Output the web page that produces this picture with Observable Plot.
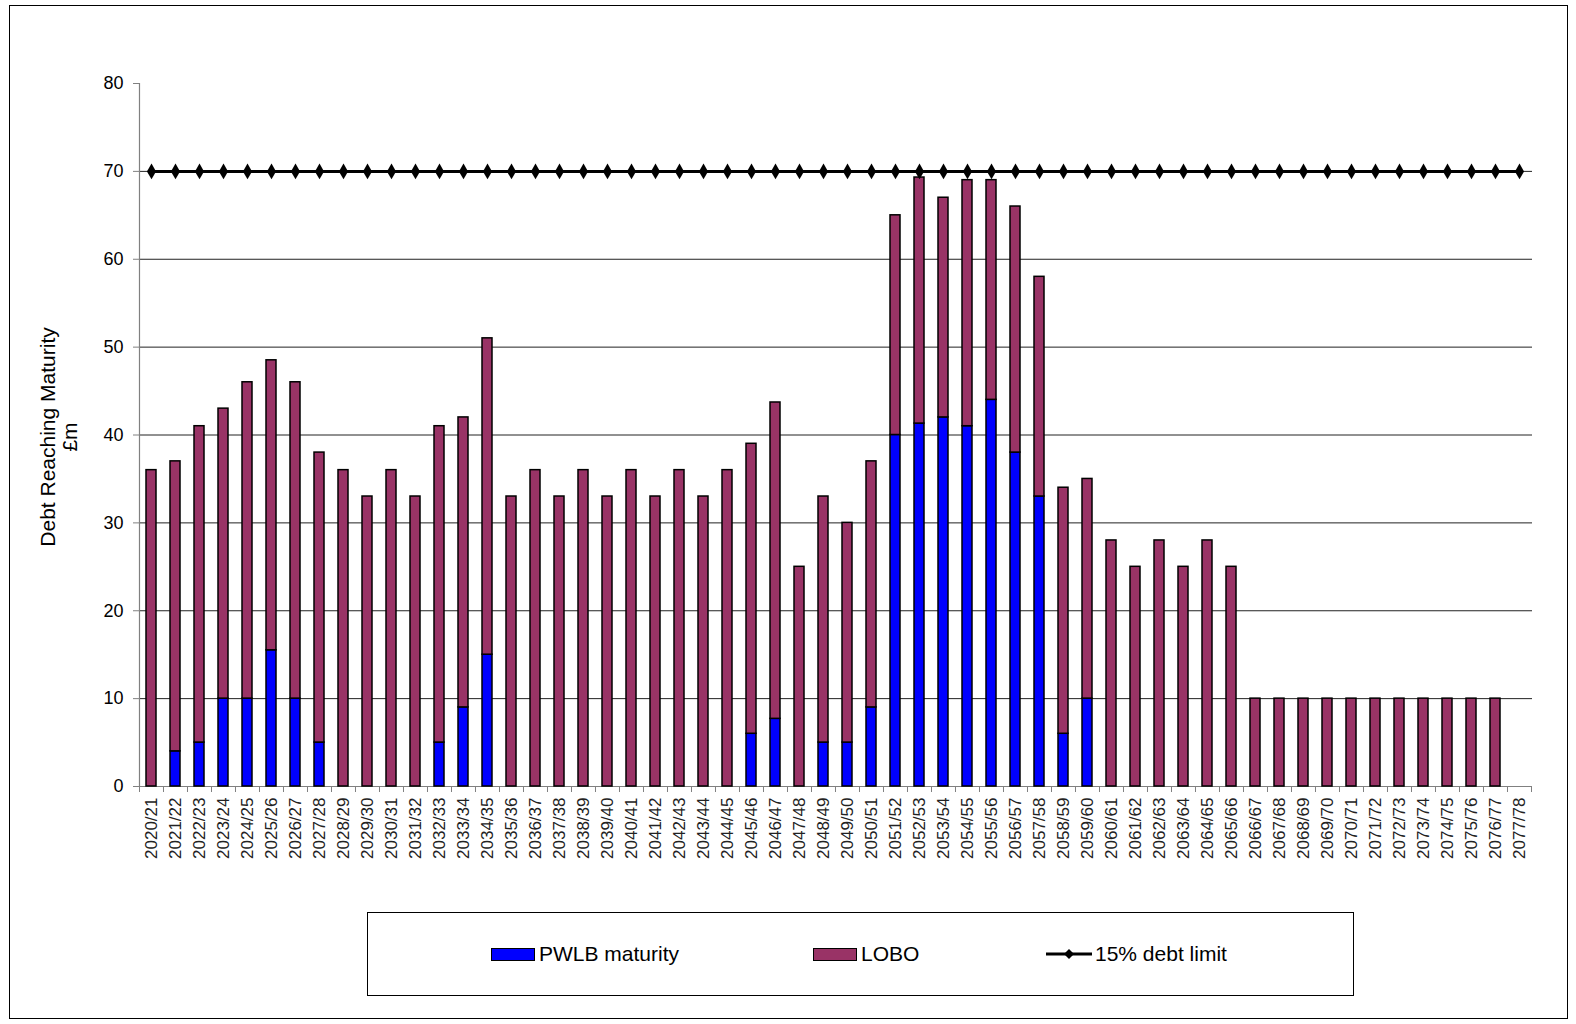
<!DOCTYPE html>
<html><head><meta charset="utf-8">
<script src="https://cdn.jsdelivr.net/npm/d3@7"></script>
<script src="https://cdn.jsdelivr.net/npm/@observablehq/plot@0.6"></script>
<style>
body{margin:0;background:#fff;font-family:"Liberation Sans",Arial,sans-serif;}
#wrap{position:relative;width:1576px;height:1024px;overflow:hidden;}
#frame{position:absolute;left:9px;top:5px;width:1559px;height:1014px;border:1px solid #000;box-sizing:border-box;}
#chart{position:absolute;left:0;top:0;}
#legend{position:absolute;left:367px;top:912px;width:987px;height:84px;border:1px solid #000;box-sizing:border-box;background:#fff;}
.item{position:absolute;top:0;height:82px;display:flex;align-items:center;font-size:21px;color:#000;}
.sw{width:42px;height:11px;border:1.5px solid #000;margin-right:4px;}
</style>
</head><body>
<div id="wrap">
  <div id="frame"></div>
  <div id="chart"></div>
  <div id="legend">
    <div class="item" style="left:123px"><span class="sw" style="background:#0000FF"></span>PWLB maturity</div>
    <div class="item" style="left:445px"><span class="sw" style="background:#993366"></span>LOBO</div>
    <div class="item" style="left:678px"><svg width="46" height="14" style="margin-right:3px"><line x1="0" y1="7" x2="46" y2="7" stroke="#000" stroke-width="3"/><path d="M23,2 L28,7 L23,12 L18,7 Z" fill="#000"/></svg>15% debt limit</div>
  </div>
</div>
<script>
const years = ["2020/21","2021/22","2022/23","2023/24","2024/25","2025/26","2026/27","2027/28","2028/29","2029/30",
"2030/31","2031/32","2032/33","2033/34","2034/35","2035/36","2036/37","2037/38","2038/39","2039/40",
"2040/41","2041/42","2042/43","2043/44","2044/45","2045/46","2046/47","2047/48","2048/49","2049/50",
"2050/51","2051/52","2052/53","2053/54","2054/55","2055/56","2056/57","2057/58","2058/59","2059/60",
"2060/61","2061/62","2062/63","2063/64","2064/65","2065/66","2066/67","2067/68","2068/69","2069/70",
"2070/71","2071/72","2072/73","2073/74","2074/75","2075/76","2076/77","2077/78"];

// total debt reaching maturity (£m)
const totals = [36,37,41,43,46,48.5,46,38,36,33,
36,33,41,42,51,33,36,33,36,33,
36,33,36,33,36,39,43.7,25,33,30,
37,65,69.3,67,69,69,66,58,34,35,
28,25,28,25,28,25,10,10,10,10,
10,10,10,10,10,10,10,0];

// PWLB maturity portion (£m)
const pwlb = [0,4,5,10,10,15.5,10,5,0,0,
0,0,5,9,15,0,0,0,0,0,
0,0,0,0,0,6,7.7,0,5,5,
9,40,41.3,42,41,44,38,33,6,10,
0,0,0,0,0,0,0,0,0,0,
0,0,0,0,0,0,0,0];

const debtLimit = 70;
const yTicks = [0,10,20,30,40,50,60,70,80];
const gridValues = [10,20,30,40,50,60,70];
const seriesNames = ["PWLB maturity","LOBO"];
const seriesColors = ["#0000FF","#993366"];

const rows = years.flatMap((y,i)=>[
  {year:y, series:seriesNames[0], value:pwlb[i]},
  {year:y, series:seriesNames[1], value:+(totals[i]-pwlb[i]).toFixed(2)}
]).filter(d=>d.value>0);

const W = 1576, ML = 139, MR = 44, MT = 83, H = 880, MB = H - 786;
const step = (W - ML - MR) / years.length;

const chart = Plot.plot({
  width: W, height: H,
  marginLeft: ML, marginRight: MR, marginTop: MT, marginBottom: MB,
  style: {fontFamily: "'Liberation Sans', Arial, sans-serif", background: "transparent", color:"#000"},
  x: {domain: years, paddingInner: 0.58, paddingOuter: 0.29, label: null},
  y: {domain: [0,80], label: null},
  color: {domain: seriesNames, range: seriesColors},
  marks: [
    Plot.ruleY(gridValues, {stroke: "#222", strokeWidth: 1}),
    Plot.ruleY([0], {stroke: "#808080", strokeWidth: 1.2}),
    Plot.ruleX([years[0]], {x: d=>d, y1: ()=>yTicks[0], y2: ()=>yTicks[yTicks.length-1], dx: -step/2, stroke: "#808080", strokeWidth: 1.2}),
    Plot.barY(rows, {x: "year", y: "value", fill: "series", stroke: "#000", strokeWidth: 1.5}),
    Plot.ruleX(years, {x: d=>d, y1: ()=>0, y2: ()=>0, insetBottom: -6, dx: -step/2, stroke: "#808080"}),
    Plot.ruleX([years[years.length-1]], {x: d=>d, y1: ()=>0, y2: ()=>0, insetBottom: -6, dx: step/2, stroke: "#808080"}),
    Plot.line(years, {x: d=>d, y: ()=>debtLimit, stroke: "#000", strokeWidth: 3}),
    Plot.dot(years, {x: d=>d, y: ()=>debtLimit, symbol: "diamond", r: 4.8, fill: "#000", stroke: "none"}),
    Plot.axisY({ticks: yTicks, tickSize: 6, tickPadding: 10, fontSize: 18, stroke: "#808080", fill: "#000", label: null}),
    Plot.axisX({tickRotate: -90, tickSize: 0, tickPadding: 11, fontSize: 17, fill: "#222", label: null})
  ]
});

const svg = d3.select(chart);
const lab = svg.append("text")
  .attr("transform", "translate(55,437) rotate(-90)")
  .attr("text-anchor", "middle")
  .attr("font-size", 21)
  .attr("fill", "#000");
lab.append("tspan").attr("x", 0).attr("dy", 0).text("Debt Reaching Maturity");
lab.append("tspan").attr("x", 0).attr("dy", 22).text("£m");

document.getElementById("chart").appendChild(chart);
</script>
</body></html>
